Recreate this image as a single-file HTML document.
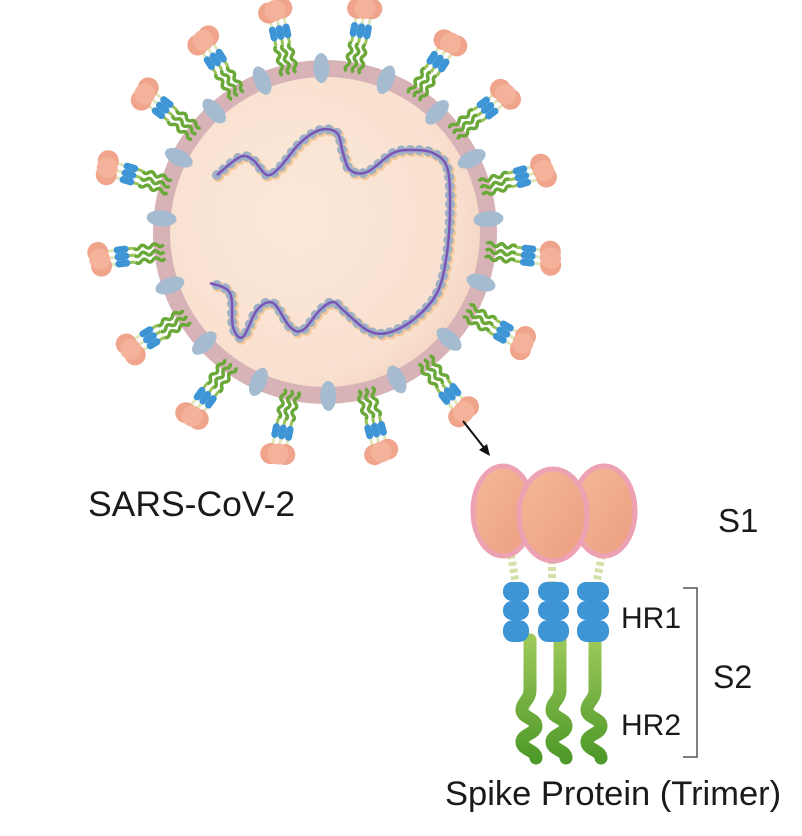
<!DOCTYPE html>
<html><head><meta charset="utf-8">
<style>
html,body{margin:0;padding:0;background:#fff;}
svg{display:block;}
text{font-family:"Liberation Sans",Arial,sans-serif;fill:#1a1a1a;}
</style></head>
<body>
<svg id="s" width="802" height="836" viewBox="0 0 802 836" xmlns="http://www.w3.org/2000/svg">
<defs>
<radialGradient id="core" cx="0.4" cy="0.45" r="0.65">
<stop offset="0" stop-color="#fce9da"/><stop offset="0.8" stop-color="#f9e0cf"/><stop offset="1" stop-color="#f3d3c2"/>
</radialGradient>
<linearGradient id="head" x1="0" y1="0" x2="1" y2="1">
<stop offset="0" stop-color="#f4b998"/><stop offset="1" stop-color="#ec9e80"/>
</linearGradient>
<linearGradient id="stem" x1="0" y1="0" x2="0" y2="1">
<stop offset="0" stop-color="#9cc85a"/><stop offset="1" stop-color="#4f9a2a"/>
</linearGradient>
</defs>
<circle cx="325" cy="232" r="172" fill="#d7b3b8"/>
<circle cx="325" cy="232" r="155" fill="url(#core)"/>
<g id="spikes"></g>
<g id="rna"></g>

<line x1="463" y1="421" x2="485" y2="449" stroke="#111" stroke-width="2"/>
<polygon points="490,456 479,450 487,444" fill="#111"/>

<text x="88" y="516" font-size="35.5">SARS-CoV-2</text>

<g id="big">
<g fill="none" stroke="url(#stem)" stroke-width="13" stroke-linecap="round">
<path d="M530 640 L530 690 C530 700 522 702 522 710 C522 718 536 718 536 726 C536 734 522 734 522 742 C522 750 536 750 536 758"/>
<path d="M560 640 L560 690 C560 700 552 702 552 710 C552 718 566 718 566 726 C566 734 552 734 552 742 C552 750 566 750 566 758"/>
<path d="M595 640 L595 690 C595 700 587 702 587 710 C587 718 601 718 601 726 C601 734 587 734 587 742 C587 750 601 750 601 758"/>
</g>
<g stroke="#d5e0a8" stroke-width="8" stroke-dasharray="4 3">
<line x1="511" y1="555" x2="516" y2="585"/>
<line x1="552" y1="560" x2="552" y2="585"/>
<line x1="602" y1="555" x2="596" y2="585"/>
</g>
<g fill="#3d95d6">
<rect x="503" y="582" width="26" height="19" rx="9"/><rect x="503" y="601" width="26" height="19" rx="9"/><rect x="503" y="620" width="26" height="22" rx="10"/>
<rect x="538" y="582" width="31" height="19" rx="9"/><rect x="538" y="601" width="31" height="19" rx="9"/><rect x="538" y="620" width="31" height="22" rx="10"/>
<rect x="577" y="582" width="32" height="19" rx="9"/><rect x="577" y="601" width="32" height="19" rx="9"/><rect x="577" y="620" width="32" height="22" rx="10"/>
</g>
<ellipse cx="604" cy="511" rx="31" ry="45" fill="url(#head)" stroke="#eda2b4" stroke-width="5"/>
<ellipse cx="503" cy="511" rx="30" ry="45" fill="url(#head)" stroke="#eda2b4" stroke-width="5"/>
<ellipse cx="553" cy="515" rx="34" ry="46" fill="url(#head)" stroke="#eda2b4" stroke-width="5"/>
</g>

<text x="718" y="532" font-size="33">S1</text>
<text x="621" y="628" font-size="30">HR1</text>
<text x="621" y="735" font-size="30">HR2</text>
<text x="713" y="688" font-size="32">S2</text>
<polyline points="683,588 697,588 697,757 683,757" fill="none" stroke="#555" stroke-width="1.5"/>
<text x="445" y="805" font-size="34.5">Spike Protein (Trimer)</text>
</svg>
<script>
var NS="http://www.w3.org/2000/svg";
function el(t,a,p){var e=document.createElementNS(NS,t);for(var k in a)e.setAttribute(k,a[k]);p.appendChild(e);return e;}
var cx=325,cy=232;
var heads=[[278,23],[363,18],[447,48],[498,100],[535,173],[540,257],[512,337],[453,398],[373,420],[285,420],[200,405],[143,342],[110,258],[115,170],[150,98],[208,48]];
var g=document.getElementById('spikes');
var angs=heads.map(function(h){return Math.atan2(h[1]-cy,h[0]-cx)*180/Math.PI;});
for(var i=0;i<angs.length;i++){
 var a1=angs[i],a2=angs[(i+1)%angs.length];
 var d=a2-a1; if(d<0)d+=360; var am=a1+d/2;
 var r=164,rad=am*Math.PI/180;
 var x=cx+r*Math.cos(rad),y=cy+r*Math.sin(rad);
 el('ellipse',{cx:x,cy:y,rx:8,ry:15,fill:'#a5bbcf',transform:'rotate('+(am+90)+' '+x+' '+y+')'},g);
}
angs.forEach(function(a){
 var s=el('g',{transform:'translate('+cx+' '+cy+') rotate('+a+')'},g);
 [-7,0,7].forEach(function(o){
  el('path',{d:'M162 '+o+' q3 -3.5 6 0 t6 0 t6 0 t6 0 t6 0',fill:'none',stroke:'#6aa83a','stroke-width':3.5},s);
  el('line',{x1:192,y1:o,x2:200,y2:o,stroke:'#9bc35a','stroke-width':3},s);
  el('rect',{x:197,y:o-3.5,width:15,height:7,rx:3.5,fill:'#3d95d6'},s);
  el('line',{x1:212,y1:o,x2:218,y2:o,stroke:'#dfe6b8','stroke-width':3},s);
 });
 el('circle',{cx:226,cy:-7,r:10.5,fill:'#f0a48c'},s);
 el('circle',{cx:228,cy:7,r:10.5,fill:'#f0a48c'},s);
 el('circle',{cx:227,cy:0,r:10.5,fill:'#f4b29a'},s);
});
var P=[[217,175],[240,157],[253,160],[267,175],[280,167],[300,143],[320,130],[337,133],[343,153],[350,170],[367,172],[393,153],[413,150],[433,153],[447,167],[450,203],[447,253],[437,293],[413,320],[387,333],[367,330],[343,310],[333,302],[320,310],[303,330],[290,327],[273,303],[257,310],[243,337],[233,327],[230,293],[210,283]];
var d='M'+P[0][0]+' '+P[0][1];
for(var i=0;i<P.length-1;i++){
 var p0=P[Math.max(i-1,0)],p1=P[i],p2=P[i+1],p3=P[Math.min(i+2,P.length-1)];
 d+=' C'+(p1[0]+(p2[0]-p0[0])/6)+' '+(p1[1]+(p2[1]-p0[1])/6)+' '+(p2[0]-(p3[0]-p1[0])/6)+' '+(p2[1]-(p3[1]-p1[1])/6)+' '+p2[0]+' '+p2[1];
}
var rg=document.getElementById('rna');
el('path',{d:d,fill:'none',stroke:'#f3c898','stroke-width':11,'stroke-linecap':'round','stroke-dasharray':'0 9',transform:'translate(1.5 1.5)'},rg);
el('path',{d:d,fill:'none',stroke:'#9fb0c6','stroke-width':10,'stroke-linecap':'round','stroke-dasharray':'0 9'},rg);
el('path',{d:d,fill:'none',stroke:'#7a55b8','stroke-width':2.5},rg);
</script>
</body></html>
